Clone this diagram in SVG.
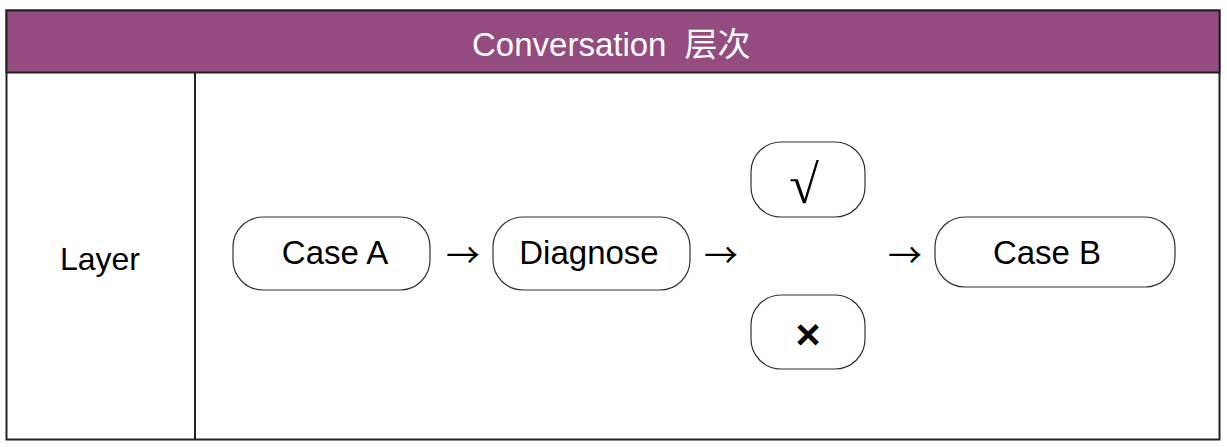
<svg xmlns="http://www.w3.org/2000/svg" width="1227" height="447" viewBox="0 0 1227 447">
<style>
.t{font-family:"Liberation Sans","Noto Sans CJK SC",Arial,sans-serif;fill:#000;text-anchor:middle}
.box{fill:#fff;stroke:#333;stroke-width:1.2}
.arr{font-family:"Noto Sans CJK SC",sans-serif;font-size:34px;fill:#000;text-anchor:middle}
</style>
<rect x="0" y="0" width="1227" height="447" fill="#fff"/>
<g id="table">
<rect x="6.5" y="10.5" width="1213" height="429" fill="#fff" stroke="#222" stroke-width="2"/>
<rect x="6.5" y="10.5" width="1213" height="62" fill="#944c80" stroke="#222" stroke-width="2"/>
<line x1="195" y1="72" x2="195" y2="440" stroke="#222" stroke-width="2"/>
<text x="472" y="56" font-size="33" style="font-family:'Liberation Sans','Noto Sans CJK SC',sans-serif;fill:#fff">Conversation<tspan dx="9"> 层次</tspan></text>
<text class="t" x="100" y="270" font-size="32">Layer</text>
</g>
<g id="caseA">
<rect class="box" x="233" y="217" width="197" height="73" rx="30"/>
<text class="t" x="335" y="264" font-size="33">Case A</text>
</g>
<g id="diagnose">
<rect class="box" x="493" y="217" width="197" height="73" rx="30"/>
<text class="t" x="589" y="264" font-size="33">Diagnose</text>
</g>
<g id="yes">
<rect class="box" x="751" y="142" width="114" height="75" rx="30"/>
<text class="t" x="804" y="203" font-size="54" style="font-family:'Liberation Serif',serif">√</text>
</g>
<g id="no">
<rect class="box" x="751" y="295" width="114" height="74" rx="30"/>
<text class="t" x="808" y="349" font-size="43" font-weight="bold">×</text>
</g>
<g id="caseB">
<rect class="box" x="935" y="217" width="240" height="70" rx="30"/>
<text class="t" x="1047" y="264" font-size="33">Case B</text>
</g>
<g id="connectors">
<text class="arr" x="463" y="268">→</text>
<text class="arr" x="721" y="268">→</text>
<text class="arr" x="905" y="268">→</text>
</g>
</svg>
